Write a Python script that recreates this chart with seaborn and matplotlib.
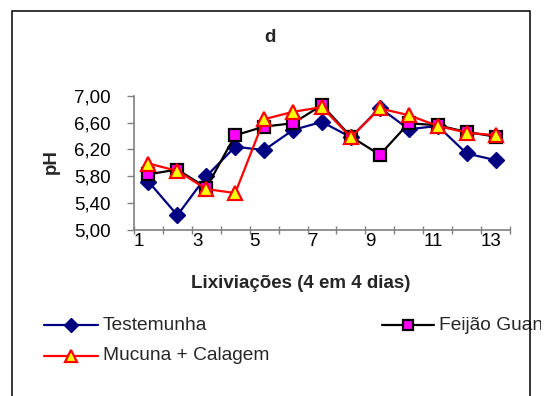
import matplotlib
matplotlib.use("Agg")
import matplotlib.pyplot as plt
import seaborn as sns
import pandas as pd
from matplotlib.lines import Line2D
from matplotlib.patches import Rectangle
from matplotlib.transforms import Bbox, TransformedBbox

leachings = list(range(1, 14))
testemunha = [5.72, 5.22, 5.80, 6.24, 6.19, 6.49, 6.61, 6.38, 6.82, 6.50, 6.55, 6.14, 6.04]
feijao = [5.83, 5.90, 5.63, 6.41, 6.54, 6.59, 6.86, 6.39, 6.12, 6.59, 6.56, 6.46, 6.39]
mucuna = [5.99, 5.88, 5.61, 5.55, 6.65, 6.76, 6.83, 6.38, 6.81, 6.71, 6.55, 6.45, 6.41]
series_names = ["Testemunha", "Feijão Guandu", "Mucuna + Calagem"]
yticks = [5.0, 5.4, 5.8, 6.2, 6.6, 7.0]
ytick_labels = ["5,00", "5,40", "5,80", "6,20", "6,60", "7,00"]
xtick_labels = ["1", "3", "5", "7", "9", "11", "13"]

sns.set_theme(style="white")
plt.rcParams["font.family"] = ["Liberation Sans", "DejaVu Sans"]
FS = 13.5
FS_LEG = 13.8

W, H = 553, 396
fig = plt.figure(figsize=(W / 100, H / 100), dpi=100)
ax = fig.add_axes([134 / W, 1 - 230 / H, (510 - 134) / W, (230 - 95.7) / H])

df = pd.DataFrame({"x": leachings, "t": testemunha, "f": feijao, "m": mucuna})

styles = [
    dict(col="t", color="#000080", marker="D", ms=8, mfc="#000080", mec="#000080", mew=1),
    dict(col="f", color="black", marker="s", ms=8.5, mfc="#FF00FF", mec="black", mew=1.6),
    dict(col="m", color="#FF0000", marker="^", ms=9.5, mfc="#FFFF00", mec="#FF0000", mew=1.6),
]
for st in styles:
    sns.lineplot(data=df, x="x", y=st["col"], ax=ax, color=st["color"], lw=1.6,
                 marker=st["marker"], markersize=st["ms"], markerfacecolor=st["mfc"],
                 markeredgecolor=st["mec"], markeredgewidth=st["mew"], legend=False,
                 clip_on=False)

ax.set_xlim(0.5, 13.5)
ax.set_ylim(5.0, 7.0)
ax.set_yticks(yticks)
ax.set_yticklabels(ytick_labels, fontsize=FS, color="black")
major = [0.5 + 2 * i for i in range(7)]
minor = [1.5 + 2 * i for i in range(7)]
ax.set_xticks(major)
ax.set_xticklabels(xtick_labels, fontsize=FS, color="black", ha="left")
ax.set_xticks(minor, minor=True)
ax.tick_params(axis="y", direction="out", length=5, width=1, color="#808080", pad=12, left=True)
ax.tick_params(axis="x", which="both", direction="inout", length=6, width=1, color="#808080",
               pad=-1, bottom=True)
ax.set_xlabel("")
ax.set_ylabel("")
for s in ["top", "right"]:
    ax.spines[s].set_visible(False)
for s in ["left", "bottom"]:
    ax.spines[s].set_color("#808080")
    ax.spines[s].set_linewidth(1.2)
ax.patch.set_alpha(0)

fig.text(270 / W, 1 - 38 / H, "d", ha="center", va="center", fontsize=FS, weight="bold")
fig.text(301 / W, 1 - 284 / H, "Lixiviações (4 em 4 dias)", ha="center", va="center",
         fontsize=FS, weight="bold")
fig.text(51 / W, 1 - 162 / H, "pH", ha="center", va="center", rotation=90,
         fontsize=FS, weight="bold")

# outer frame (drawn on top of the overflowing legend text)
frame = Rectangle((12 / W, -0.1), (529.5 - 12) / W, 1.1 - 10.5 / H, fill=False,
                  ec="black", lw=1.1, transform=fig.transFigure, figure=fig, zorder=10)
fig.patches.append(frame)

clip = TransformedBbox(Bbox([[0, 0], [541 / W, 1]]), fig.transFigure)
legend_items = [
    (44, 98, 325, 103, 0),
    (382, 434, 325, 439, 1),
    (44, 98, 356, 103, 2),
]
for x0, x1, yy, tx, i in legend_items:
    st = styles[i]
    y = 1 - yy / H
    fig.lines.append(Line2D([x0 / W, x1 / W], [y, y], transform=fig.transFigure, figure=fig,
                            color=st["color"], lw=1.6))
    fig.lines.append(Line2D([(x0 + x1) / 2 / W], [y], transform=fig.transFigure, figure=fig,
                            marker=st["marker"], ms=st["ms"] - 1, mfc=st["mfc"], mec=st["mec"],
                            mew=st["mew"], ls="none"))
    t = fig.text(tx / W, y, series_names[i], ha="left", va="center", fontsize=FS_LEG)
    t.set_clip_box(clip)
    t.set_clip_on(True)

fig.savefig("out.png", dpi=100)
